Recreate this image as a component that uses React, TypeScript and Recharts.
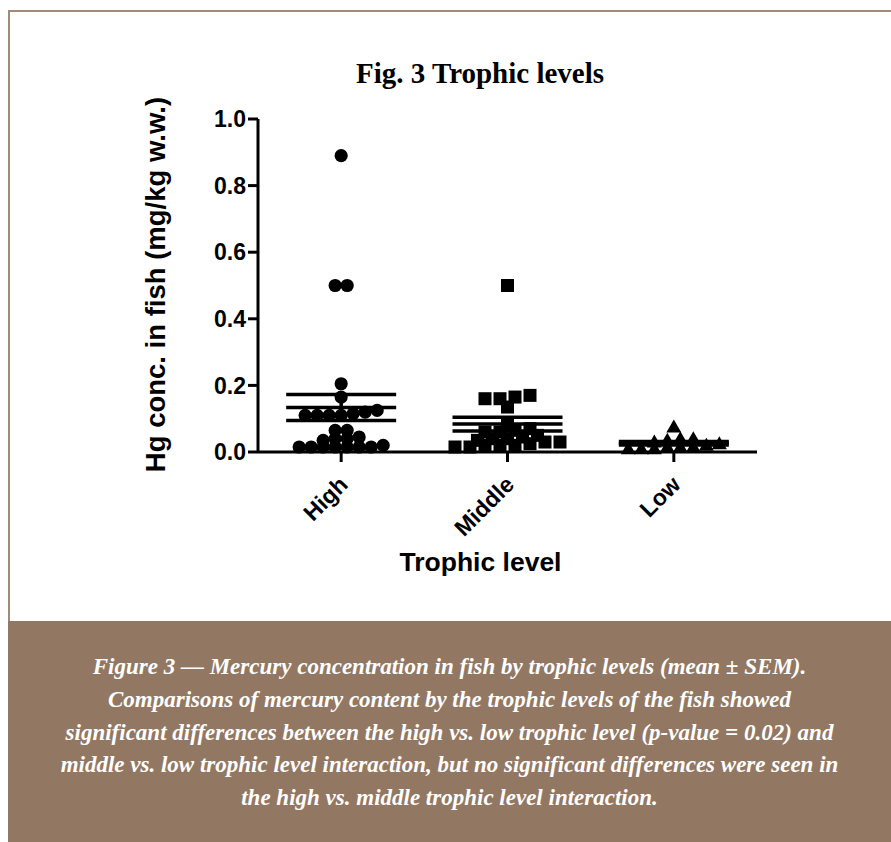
import React from 'react';
import { ScatterChart, Scatter, XAxis, YAxis, ErrorBar } from 'recharts';

// ---------- data ----------
const categories = ['High', 'Middle', 'Low'];
const highValues = [0.89, 0.5, 0.5, 0.205, 0.165, 0.125, 0.12, 0.11, 0.11, 0.115, 0.11, 0.11, 0.065, 0.065, 0.045, 0.04, 0.04, 0.035, 0.02, 0.015, 0.015, 0.015, 0.015, 0.015, 0.015, 0.015];
const middleValues = [0.5, 0.17, 0.165, 0.16, 0.16, 0.135, 0.08, 0.07, 0.065, 0.06, 0.06, 0.05, 0.045, 0.04, 0.04, 0.035, 0.03, 0.03, 0.025, 0.02, 0.02, 0.02, 0.015, 0.015];
const lowValues = [0.075, 0.04, 0.04, 0.035, 0.03, 0.025, 0.02, 0.015, 0.015, 0.015, 0.01, 0.01, 0.01];
const yTicks = [0, 0.2, 0.4, 0.6, 0.8, 1.0];
const xTicks = [0.5, 1.5, 2.5];
const titleText = 'Fig. 3 Trophic levels';
const yAxisTitle = 'Hg conc. in fish (mg/kg w.w.)';
const xAxisTitle = 'Trophic level';
const captionLines = [
  'Figure 3 \u2014 Mercury concentration in fish by trophic levels (mean \u00b1 SEM).',
  'Comparisons of mercury content by the trophic levels of the fish showed',
  'significant differences between the high vs. low trophic level (p-value = 0.02) and',
  'middle vs. low trophic level interaction, but no significant differences were seen in',
  'the high vs. middle trophic level interaction.',
];

// ---------- layout ----------
const CHART_W = 891;
const CHART_H = 620;
const MARGIN = { top: 119, right: 134, bottom: 0, left: 148 };
const Y_AXIS_W = 110;
const X_AXIS_H = 168;
const PLOT_W = CHART_W - MARGIN.left - MARGIN.right - Y_AXIS_W;
const SANS = '"Liberation Sans", Arial, sans-serif';
const SERIF = '"Liberation Serif", "Times New Roman", serif';

const mean = (a: number[]) => a.reduce((s, v) => s + v, 0) / a.length;
const sem = (a: number[]) => {
  const m = mean(a);
  const sd = Math.sqrt(a.reduce((s, v) => s + (v - m) ** 2, 0) / (a.length - 1));
  return sd / Math.sqrt(a.length);
};

// column-scatter placement: points with near-equal values share a row, spread evenly around the column centre
function columnScatter(values: number[], center: number, spacingPx: number) {
  const pxPerX = PLOT_W / 3;
  const ROW_TOL = 0.016;
  const order = values.map((_, i) => i).sort((a, b) => values[a] - values[b]);
  const out: { x: number; y: number }[] = new Array(values.length);
  let k = 0;
  while (k < order.length) {
    const start = values[order[k]];
    const row: number[] = [];
    while (k < order.length && values[order[k]] - start <= ROW_TOL) {
      row.push(order[k]);
      k++;
    }
    row.forEach((idx, j) => {
      const off = (j - (row.length - 1) / 2) * spacingPx;
      out[idx] = { x: center + off / pxPerX, y: values[idx] };
    });
  }
  return out;
}

const groups = [highValues, middleValues, lowValues];
const groupSpacing = [12, 15, 13];
const pointSets = groups.map((g, i) => columnScatter(g, xTicks[i], groupSpacing[i]));
const meanData = groups.map((g, i) => ({ x: xTicks[i], y: mean(g), err: sem(g) }));

const CircleShape = (p: any) => <circle cx={p.cx} cy={p.cy} r={6.6} fill="#000" />;
const SquareShape = (p: any) => <rect x={p.cx - 6.5} y={p.cy - 6.5} width={13} height={13} fill="#000" />;
const TriangleShape = (p: any) => (
  <polygon points={`${p.cx},${p.cy - 7.5} ${p.cx + 7.5},${p.cy + 5.5} ${p.cx - 7.5},${p.cy + 5.5}`} fill="#000" />
);
const MeanShape = (p: any) => (
  <line x1={p.cx - 55} x2={p.cx + 55} y1={p.cy} y2={p.cy} stroke="#000" strokeWidth={3.5} />
);

const XTick = (p: any) => {
  const label = categories[Math.floor(p.payload.value)];
  const x = p.x + 8;
  const y = p.y + 22;
  return (
    <text x={x} y={y} transform={`rotate(-45 ${x} ${y})`} textAnchor="end" fontSize={23} fontWeight="bold" fontFamily={SANS} fill="#000">
      {label}
    </text>
  );
};

const YTitle = (p: any) => {
  const vb = p.viewBox;
  const x = vb.x + 7;
  const y = vb.y + vb.height / 2 - 1;
  return (
    <text x={x} y={y} transform={`rotate(-90 ${x} ${y})`} textAnchor="middle" dominantBaseline="central" fontSize={27.5} fontWeight="bold" fontFamily={SANS} fill="#000">
      {yAxisTitle}
    </text>
  );
};

const XTitle = (p: any) => {
  const vb = p.viewBox;
  const x = vb.x + vb.width / 2 - 27;
  const y = vb.y + 119;
  return (
    <text x={x} y={y} textAnchor="middle" fontSize={26.5} fontWeight="bold" fontFamily={SANS} fill="#000">
      {xAxisTitle}
    </text>
  );
};

export default function App() {
  return (
    <div style={{ position: 'absolute', left: 0, top: 0, width: 891, height: 842, overflow: 'hidden', background: '#fff' }}>
      <div style={{ position: 'absolute', left: 8, top: 10, width: 920, height: 611, boxSizing: 'border-box', border: '2.6px solid #a38a78', borderBottom: 'none' }} />
      <div style={{ position: 'absolute', left: 0, top: 0 }}>
        <ScatterChart width={CHART_W} height={CHART_H} margin={MARGIN}>
          <XAxis
            type="number"
            dataKey="x"
            domain={[0, 3]}
            ticks={xTicks}
            interval={0}
            height={X_AXIS_H}
            axisLine={{ stroke: '#000', strokeWidth: 3 }}
            tickLine={{ stroke: '#000', strokeWidth: 3 }}
            tickSize={10}
            tickMargin={2}
            tick={<XTick />}
            label={{ content: <XTitle /> }}
          />
          <YAxis
            type="number"
            dataKey="y"
            domain={[0, 1]}
            ticks={yTicks}
            interval={0}
            width={Y_AXIS_W}
            axisLine={{ stroke: '#000', strokeWidth: 3 }}
            tickLine={{ stroke: '#000', strokeWidth: 3 }}
            tickSize={10}
            tickMargin={2}
            tickFormatter={(v: number) => v.toFixed(1)}
            tick={{ fontSize: 23, fontWeight: 'bold', fontFamily: SANS, fill: '#000' }}
            label={{ content: <YTitle /> }}
          />
          <Scatter data={pointSets[0]} shape={CircleShape} isAnimationActive={false} />
          <Scatter data={pointSets[1]} shape={SquareShape} isAnimationActive={false} />
          <Scatter data={pointSets[2]} shape={TriangleShape} isAnimationActive={false} />
          <Scatter data={meanData} shape={MeanShape} isAnimationActive={false}>
            <ErrorBar dataKey="err" direction="y" width={55} stroke="#000" strokeWidth={3.5} />
          </Scatter>
        </ScatterChart>
      </div>
      <div style={{ position: 'absolute', left: 230, top: 56, width: 500, textAlign: 'center', fontFamily: SERIF, fontWeight: 'bold', fontSize: 29, lineHeight: '34px', color: '#000', whiteSpace: 'nowrap' }}>
        {titleText}
      </div>
      <div style={{ position: 'absolute', left: 8, top: 621, width: 920, height: 240, background: '#927763' }} />
      <div style={{ position: 'absolute', left: 8, top: 651, width: 883 }}>
        {captionLines.map((line, i) => (
          <div key={i} style={{ textAlign: 'center', fontFamily: SERIF, fontStyle: 'italic', fontWeight: 'bold', fontSize: 23, lineHeight: '32.8px', color: '#fff', whiteSpace: 'nowrap' }}>
            {line}
          </div>
        ))}
      </div>
    </div>
  );
}
